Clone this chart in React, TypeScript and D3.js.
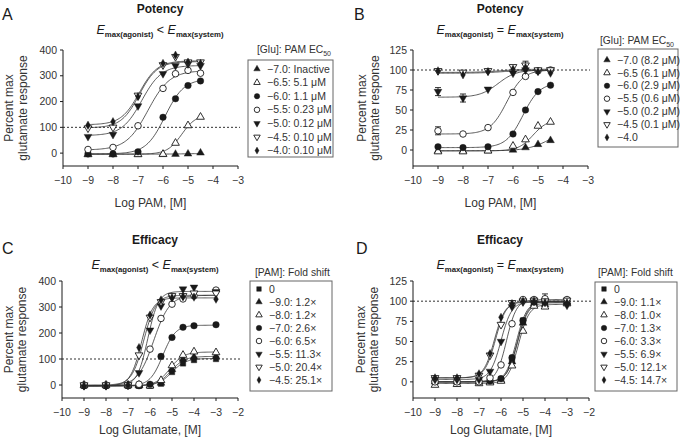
import * as d3 from 'd3';

const FONT = '"Liberation Sans", Arial, Helvetica, sans-serif';
const INK = '#1a1a1a';

// doses (log M) at which responses were measured
const potencyDoses = [-9, -8, -7, -6, -5.5, -5, -4.5];
const efficacyDoses = [-9, -8, -7, -6.5, -6, -5.5, -5, -4.5, -4, -3];

const potencySymbols = ['triUp', 'triUpOpen', 'circle', 'circleOpen', 'triDown', 'triDownOpen', 'diamond'];
const efficacySymbols = ['square', ...potencySymbols];

// Panel A: potency, Emax(agonist) < Emax(system)
const aLabels = ['−7.0: Inactive', '−6.5: 5.1 μM', '−6.0: 1.1 μM', '−5.5: 0.23 μM', '−5.0: 0.12 μM', '−4.5: 0.10 μM', '−4.0: 0.10 μM'];
const aValues = [
  [-5, -5, -5, -5, -4, -3, 1],
  [-5, -5, -5, -4, 39, 107, 140],
  [-3, -3, 5, 139, 211, 262, 280],
  [14, 22, 106, 251, 308, 321, 310],
  [64, 72, 183, 308, 339, 346, 339],
  [97, 100, 224, 342, 374, 353, 353],
  [108, 122, 219, 348, 380, 353, 348],
];
// fitted curves: [bottom, top, logEC50, hill slope]
const aFits = [
  [-4, -1, -5, 1],
  [-4, 150, -5.25, 1.5],
  [-3, 288, -5.92, 1.15],
  [12, 320, -6.6, 1.0],
  [68, 340, -6.85, 1.1],
  [98, 355, -6.95, 1.2],
  [110, 358, -6.95, 1.2],
];

// Panel B: potency, Emax(agonist) = Emax(system)
const bLabels = ['−7.0 (8.2 μM)', '−6.5 (6.1 μM)', '−6.0 (2.9 μM)', '−5.5 (0.6 μM)', '−5.0 (0.2 μM)', '−4.5 (0.1 μM)', '−4.0'];
const bValues = [
  [-1, -1, -1, 0, 3, 7, 12],
  [-2, -2, -1, 5, 13, 30, 35],
  [4, 3, 4, 20, 50, 73, 81],
  [24, 20, 28, 72, 92, 99, 100],
  [73, 65, 76, 96, 100, 99, 100],
  [99, 97, 99, 104, 106, 100, 100],
  [99, 94, 98, 101, 103, 98, 96],
];
const bErrors = [
  [0, 0, 0, 0, 0, 0, 0],
  [0, 0, 0, 0, 0, 0, 0],
  [0, 0, 0, 0, 0, 0, 0],
  [5, 0, 2, 0, 0, 0, 0],
  [5, 5, 0, 0, 0, 0, 0],
  [0, 0, 0, 0, 5, 0, 0],
  [0, 0, 0, 0, 0, 0, 0],
];
const bFits = [
  [-1, 25, -4.6, 1],
  [-1, 38, -5.2, 1.5],
  [3, 84, -5.6, 1.3],
  [20, 100, -6.25, 1.3],
  [66, 100, -6.6, 1.2],
  [97, 101, -6.5, 1],
  [96, 99.5, -6.5, 1],
];

// Panel C: efficacy, Emax(agonist) < Emax(system)
const cLabels = ['0', '−9.0: 1.2×', '−8.0: 1.2×', '−7.0: 2.6×', '−6.0: 6.5×', '−5.5: 11.3×', '−5.0: 20.4×', '−4.5: 25.1×'];
const cValues = [
  [-3, -3, -3, -3, -3, 5, 50, 83, 96, 100],
  [-3, -3, -3, -3, -3, 8, 60, 100, 108, 110],
  [0, 0, 0, 0, -3, 18, 75, 115, 128, 125],
  [-3, -3, -3, -3, 3, 110, 183, 222, 228, 232],
  [0, 0, 0, 3, 138, 256, 311, 331, 343, 365],
  [-3, -3, 0, 47, 211, 304, 336, 369, 376, 359],
  [0, 0, 0, 115, 260, 320, 343, 343, 353, 353],
  [-3, -3, 0, 144, 269, 327, 336, 340, 338, 330],
];
const cFits = [
  [-3, 102, -5.0, 1.4],
  [-3, 110, -5.05, 1.4],
  [-3, 127, -5.1, 1.4],
  [-3, 230, -5.42, 1.5],
  [-3, 345, -5.83, 1.2],
  [-3, 360, -6.1, 1.8],
  [0, 345, -6.28, 1.6],
  [-3, 335, -6.38, 1.7],
];

// Panel D: efficacy, Emax(agonist) = Emax(system)
const dLabels = ['0', '−9.0: 1.1×', '−8.0: 1.0×', '−7.0: 1.3×', '−6.0: 3.3×', '−5.5: 6.9×', '−5.0: 12.1×', '−4.5: 14.7×'];
const dValues = [
  [0, 0, 0, 0, 3, 27, 76, 100, 99, 98],
  [0, 0, 0, 0, 2, 25, 73, 97, 96, 98],
  [-4, -3, -2, -1, 1, 20, 63, 94, 93, 97],
  [1, 1, 1, 1, 4, 30, 76, 99, 100, 99],
  [0, 0, 0, 5, 21, 72, 102, 102, 103, 102],
  [3, 3, 3, 13, 50, 93, 99, 100, 100, 95],
  [5, 5, 8, 33, 71, 98, 100, 101, 100, 101],
  [5, 5, 10, 35, 80, 97, 100, 100, 98, 98],
];
const dErrors = [
  [0, 0, 0, 0, 0, 0, 0, 0, 0, 0],
  [0, 0, 0, 0, 0, 0, 0, 0, 0, 0],
  [0, 0, 0, 0, 0, 0, 0, 0, 0, 0],
  [0, 0, 0, 0, 0, 0, 0, 0, 0, 0],
  [0, 0, 0, 0, 0, 0, 0, 0, 6, 0],
  [0, 0, 0, 0, 0, 0, 0, 0, 0, 0],
  [0, 0, 0, 0, 0, 0, 0, 0, 0, 0],
  [0, 0, 0, 0, 0, 0, 0, 0, 0, 0],
];
const dFits = [
  [0, 100, -5.25, 1.8],
  [0, 98, -5.25, 1.8],
  [-2, 96, -5.2, 1.8],
  [0, 100, -5.3, 1.8],
  [0, 102, -5.75, 1.9],
  [3, 99, -6.0, 1.8],
  [5, 100, -6.25, 1.8],
  [5, 99, -6.3, 1.8],
];

const yTicksWide = [0, 100, 200, 300, 400];
const yTicksNarrow = [0, 25, 50, 75, 100, 125];

const logistic = (f: number[], v: number) => f[0] + (f[1] - f[0]) / (1 + Math.pow(10, (f[2] - v) * f[3]));

const symbolTypes: Record<string, any> = {
  triUp: d3.symbolTriangle,
  triDown: d3.symbolTriangle,
  circle: d3.symbolCircle,
  square: d3.symbolSquare,
  diamond: d3.symbolDiamond,
};
const symbolSizes: Record<string, number> = { triUp: 26, triDown: 26, circle: 34, square: 30, diamond: 20 };

function Marker({ kind, cx, cy, scale = 1 }: { kind: string; cx: number; cy: number; scale?: number }) {
  const open = kind.endsWith('Open');
  const base = open ? kind.slice(0, -4) : kind;
  const d = d3.symbol(symbolTypes[base], symbolSizes[base] * scale)()!;
  const rot = base === 'triDown' ? ' rotate(180)' : '';
  return (
    <path
      d={d}
      transform={`translate(${cx},${cy})${rot}`}
      fill={open ? '#fff' : INK}
      stroke={INK}
      strokeWidth={open ? 0.9 : 0.4}
    />
  );
}

type PanelCfg = {
  letter: string;
  letterX: number;
  letterY: number;
  title: string;
  titleX: number;
  titleY: number;
  rel: string;
  subY: number;
  xDomain: [number, number];
  xRange: [number, number];
  yDomain: [number, number];
  yRange: [number, number];
  yTicks: number[];
  xLabel: string;
  xLabelY: number;
  yLabelX: [number, number];
  doses: number[];
  values: number[][];
  errors?: number[][];
  fits: number[][];
  symbols: string[];
  labels: string[];
  legendTitle: string;
  legendTitleSub?: string;
  legendTitleX: number;
  legendTitleY: number;
  box: [number, number, number, number];
  rowY0: number;
  rowStep: number;
};

function Panel({ p }: { p: PanelCfg }) {
  const x = d3.scaleLinear().domain(p.xDomain).range(p.xRange);
  const y = d3.scaleLinear().domain(p.yDomain).range(p.yRange);
  const fmt = d3.format('d');
  const xTicks = d3.range(p.xDomain[0], p.xDomain[1] + 1);
  const curveXs = d3.range(p.doses[0], p.doses[p.doses.length - 1] + 0.001, 0.05);
  const [x0, x1] = p.xRange;
  const [yb, yt] = p.yRange;
  const midY = (yb + yt) / 2;
  const midX = (x0 + x1) / 2;
  const [bx, by, bw, bh] = p.box;

  return (
    <g fontFamily={FONT}>
      <text x={p.letterX} y={p.letterY} fontSize={16} fill={INK}>{p.letter}</text>
      <text x={p.titleX} y={p.titleY} fontSize={12} fontWeight="bold" textAnchor="middle" fill={INK}>{p.title}</text>
      <text x={p.titleX} y={p.subY} fontSize={12.5} textAnchor="middle" fill={INK}>
        <tspan fontStyle="italic">E</tspan>
        <tspan fontSize={7.8} fontWeight="bold" dy={3}>max(agonist)</tspan>
        <tspan dy={-3}>{` ${p.rel} `}</tspan>
        <tspan fontStyle="italic">E</tspan>
        <tspan fontSize={7.8} fontWeight="bold" dy={3}>max(system)</tspan>
      </text>

      {/* axes */}
      <line x1={x0} x2={x0} y1={yt} y2={yb} stroke={INK} strokeWidth={1} />
      <line x1={x0} x2={x1} y1={yb} y2={yb} stroke={INK} strokeWidth={1} />
      {p.yTicks.map((t) => (
        <g key={`y${t}`}>
          <line x1={x0 - 3} x2={x0} y1={y(t)} y2={y(t)} stroke={INK} />
          <text x={x0 - 6} y={y(t)} dy="0.35em" fontSize={10.5} textAnchor="end" fill="#333">{fmt(t)}</text>
        </g>
      ))}
      {xTicks.map((t) => (
        <g key={`x${t}`}>
          <line x1={x(t)} x2={x(t)} y1={yb} y2={yb + 3} stroke={INK} />
          <text x={x(t)} y={yb + 18} fontSize={10.5} textAnchor="middle" fill="#333">{fmt(t)}</text>
        </g>
      ))}
      <text x={midX} y={p.xLabelY} fontSize={12} textAnchor="middle" fill="#333">{p.xLabel}</text>
      <text transform={`translate(${p.yLabelX[0]},${midY}) rotate(-90)`} fontSize={12} textAnchor="middle" fill="#333">Percent max</text>
      <text transform={`translate(${p.yLabelX[1]},${midY}) rotate(-90)`} fontSize={12} textAnchor="middle" fill="#333">glutamate response</text>

      {/* reference line at 100% */}
      <line x1={x0} x2={x1 + 2} y1={y(100)} y2={y(100)} stroke={INK} strokeWidth={0.9} strokeDasharray="2,2" />

      {/* fitted curves */}
      {p.fits.map((f, i) => {
        const line = d3.line<number>().x((v) => x(v)).y((v) => y(logistic(f, v)));
        return <path key={`c${i}`} d={line(curveXs)!} fill="none" stroke="#333" strokeWidth={0.8} />;
      })}

      {/* error bars */}
      {p.errors && p.errors.map((row, i) =>
        row.map((e, j) => {
          if (!e) return null;
          const cx = x(p.doses[j]);
          const v = p.values[i][j];
          return (
            <g key={`e${i}-${j}`} stroke={INK} strokeWidth={0.9}>
              <line x1={cx} x2={cx} y1={y(v - e)} y2={y(v + e)} />
              <line x1={cx - 3} x2={cx + 3} y1={y(v + e)} y2={y(v + e)} />
              <line x1={cx - 3} x2={cx + 3} y1={y(v - e)} y2={y(v - e)} />
            </g>
          );
        })
      )}

      {/* data points */}
      {p.values.map((row, i) =>
        row.map((v, j) => <Marker key={`m${i}-${j}`} kind={p.symbols[i]} cx={x(p.doses[j])} cy={y(v)} />)
      )}

      {/* legend */}
      <text x={p.legendTitleX} y={p.legendTitleY} fontSize={10.3} fill="#333">
        {p.legendTitle}
        {p.legendTitleSub && <tspan fontSize={7} dy={3}>{p.legendTitleSub}</tspan>}
      </text>
      <rect x={bx} y={by} width={bw} height={bh} fill="#fff" stroke="#666" strokeWidth={1} />
      {p.labels.map((l, i) => (
        <g key={`l${i}`}>
          <Marker kind={p.symbols[i]} cx={bx + 9} cy={p.rowY0 + i * p.rowStep} scale={0.7} />
          <text x={bx + 19} y={p.rowY0 + i * p.rowStep} dy="0.35em" fontSize={10.5} fill="#333">{l}</text>
        </g>
      ))}
    </g>
  );
}

const panels: PanelCfg[] = [
  {
    letter: 'A', letterX: 2, letterY: 20, title: 'Potency', titleX: 160, titleY: 13, rel: '<', subY: 34,
    xDomain: [-10, -3], xRange: [63, 238], yDomain: [-50, 400], yRange: [166, 50], yTicks: yTicksWide,
    xLabel: 'Log PAM, [M]', xLabelY: 207, yLabelX: [13, 27],
    doses: potencyDoses, values: aValues, fits: aFits, symbols: potencySymbols, labels: aLabels,
    legendTitle: '[Glu]: PAM EC', legendTitleSub: '50', legendTitleX: 257, legendTitleY: 53,
    box: [248, 60, 85, 97], rowY0: 69, rowStep: 13.6,
  },
  {
    letter: 'B', letterX: 354, letterY: 20, title: 'Potency', titleX: 500, titleY: 13, rel: '=', subY: 34,
    xDomain: [-10, -3], xRange: [413, 588], yDomain: [-20, 125], yRange: [166, 50], yTicks: yTicksNarrow,
    xLabel: 'Log PAM, [M]', xLabelY: 207, yLabelX: [366, 379],
    doses: potencyDoses, values: bValues, errors: bErrors, fits: bFits, symbols: potencySymbols, labels: bLabels,
    legendTitle: '[Glu]: PAM EC', legendTitleSub: '50', legendTitleX: 600, legendTitleY: 44,
    box: [598, 49, 80, 98], rowY0: 60, rowStep: 12.9,
  },
  {
    letter: 'C', letterX: 2, letterY: 254, title: 'Efficacy', titleX: 155, titleY: 244, rel: '<', subY: 269,
    xDomain: [-10, -2], xRange: [62, 238], yDomain: [-50, 400], yRange: [398, 281], yTicks: yTicksWide,
    xLabel: 'Log Glutamate, [M]', xLabelY: 434, yLabelX: [13, 26],
    doses: efficacyDoses, values: cValues, fits: cFits, symbols: efficacySymbols, labels: cLabels,
    legendTitle: '[PAM]: Fold shift', legendTitleX: 255, legendTitleY: 276,
    box: [250, 281, 82, 110], rowY0: 289, rowStep: 13,
  },
  {
    letter: 'D', letterX: 356, letterY: 254, title: 'Efficacy', titleX: 500, titleY: 244, rel: '=', subY: 269,
    xDomain: [-10, -2], xRange: [413, 589], yDomain: [-20, 125], yRange: [398, 281], yTicks: yTicksNarrow,
    xLabel: 'Log Glutamate, [M]', xLabelY: 434, yLabelX: [365, 378],
    doses: efficacyDoses, values: dValues, errors: dErrors, fits: dFits, symbols: efficacySymbols, labels: dLabels,
    legendTitle: '[PAM]: Fold shift', legendTitleX: 598, legendTitleY: 276,
    box: [595, 282, 82, 109], rowY0: 289, rowStep: 13,
  },
];

export default function App() {
  return (
    <svg
      width={680}
      height={437}
      style={{ position: 'absolute', left: 0, top: 0, background: '#fff' }}
    >
      <rect width={680} height={437} fill="#fff" />
      {panels.map((p) => <Panel key={p.letter} p={p} />)}
    </svg>
  );
}
